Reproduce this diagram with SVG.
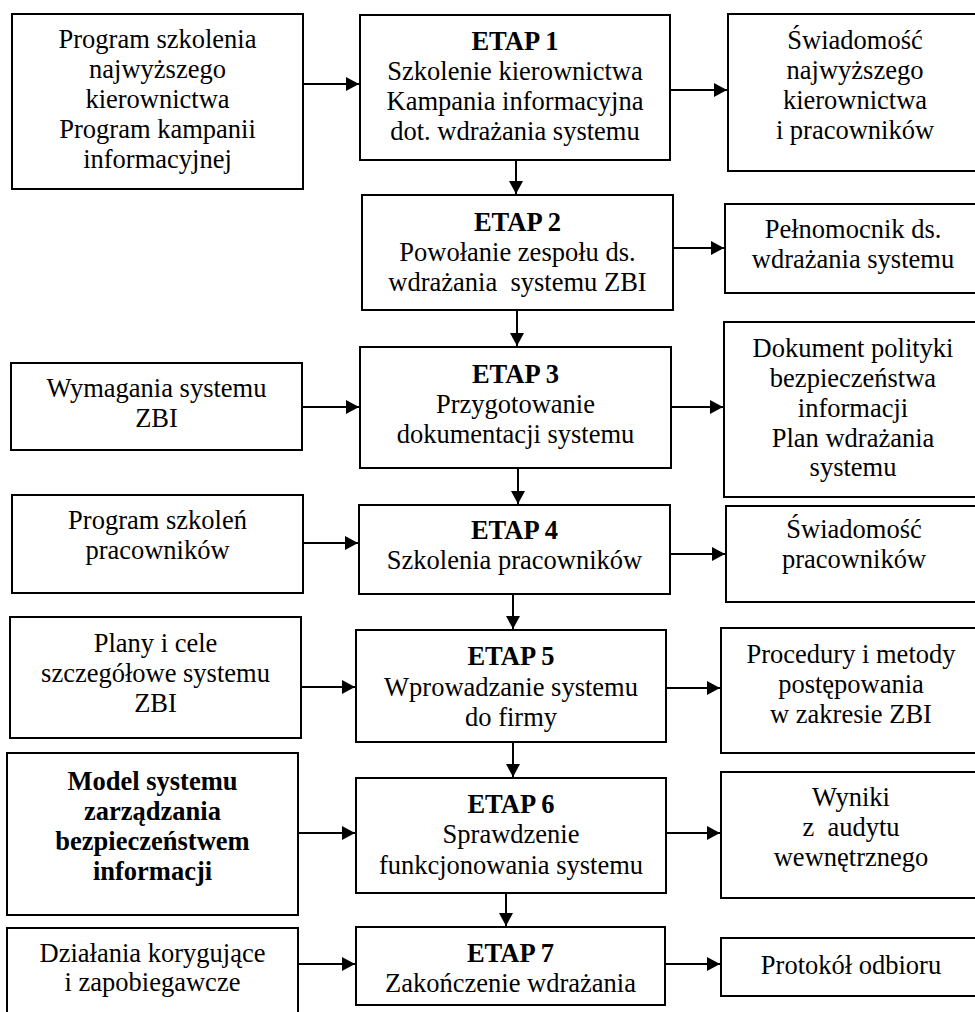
<svg xmlns="http://www.w3.org/2000/svg" width="975" height="1012" viewBox="0 0 975 1012">
<style>
  rect.box { fill: #ffffff; stroke: #000000; stroke-width: 2; }
  text { font-family: "Liberation Serif", "Times New Roman", serif; font-size: 26.5px; fill: #000000; text-anchor: middle; }
  text .b, text.b { font-weight: bold; }
  .conn line { stroke: #000000; stroke-width: 2; marker-end: url(#ah); }
</style>
<defs>
  <marker id="ah" markerUnits="userSpaceOnUse" markerWidth="14" markerHeight="14" refX="13" refY="7" orient="auto">
    <path d="M0,0 L13,7 L0,14 z" fill="#000000"/>
  </marker>
</defs>
<rect x="0" y="0" width="975" height="1012" fill="#ffffff"/>

<!-- left column -->
<g id="in1">
  <rect class="box" x="12" y="14" width="291" height="175"/>
  <text x="157.5" y="48">Program szkolenia</text>
  <text x="157.5" y="78">najwyższego</text>
  <text x="157.5" y="108">kierownictwa</text>
  <text x="157.5" y="138">Program kampanii</text>
  <text x="157.5" y="168">informacyjnej</text>
</g>
<g id="in3">
  <rect class="box" x="11" y="363" width="291" height="87"/>
  <text x="156.5" y="397">Wymagania systemu</text>
  <text x="156.5" y="427">ZBI</text>
</g>
<g id="in4">
  <rect class="box" x="12" y="495" width="291" height="98"/>
  <text x="157.5" y="529">Program szkoleń</text>
  <text x="157.5" y="559">pracowników</text>
</g>
<g id="in5">
  <rect class="box" x="10" y="617" width="291" height="121"/>
  <text x="155.5" y="652">Plany i cele</text>
  <text x="155.5" y="682">szczegółowe systemu</text>
  <text x="155.5" y="712">ZBI</text>
</g>
<g id="in6">
  <rect class="box" x="7" y="753" width="291" height="162"/>
  <text class="b" x="152.5" y="790">Model systemu</text>
  <text class="b" x="152.5" y="820">zarządzania</text>
  <text class="b" x="152.5" y="850">bezpieczeństwem</text>
  <text class="b" x="152.5" y="880">informacji</text>
</g>
<g id="in7">
  <rect class="box" x="7" y="928" width="291" height="100"/>
  <text x="152.5" y="962">Działania korygujące</text>
  <text x="152.5" y="991">i zapobiegawcze</text>
</g>

<!-- middle column -->
<g id="etap1">
  <rect class="box" x="360" y="15" width="310" height="145"/>
  <text class="b" x="515" y="49.5">ETAP 1</text>
  <text x="515" y="79.5">Szkolenie kierownictwa</text>
  <text x="515" y="109.5">Kampania informacyjna</text>
  <text x="515" y="139.5">dot. wdrażania systemu</text>
</g>
<g id="etap2">
  <rect class="box" x="362" y="195" width="311" height="115"/>
  <text class="b" x="517.5" y="231">ETAP 2</text>
  <text x="517.5" y="261">Powołanie zespołu ds.</text>
  <text x="517.5" y="291" xml:space="preserve">wdrażania  systemu ZBI</text>
</g>
<g id="etap3">
  <rect class="box" x="360" y="347" width="311" height="121"/>
  <text class="b" x="515.5" y="383">ETAP 3</text>
  <text x="515.5" y="413">Przygotowanie</text>
  <text x="515.5" y="443">dokumentacji systemu</text>
</g>
<g id="etap4">
  <rect class="box" x="359" y="505" width="311" height="89"/>
  <text class="b" x="514.5" y="539">ETAP 4</text>
  <text x="514.5" y="569">Szkolenia pracowników</text>
</g>
<g id="etap5">
  <rect class="box" x="356" y="630" width="310" height="112"/>
  <text class="b" x="511" y="665">ETAP 5</text>
  <text x="511" y="696">Wprowadzanie systemu</text>
  <text x="511" y="726">do firmy</text>
</g>
<g id="etap6">
  <rect class="box" x="356" y="778" width="310" height="115"/>
  <text class="b" x="511" y="813">ETAP 6</text>
  <text x="511" y="843">Sprawdzenie</text>
  <text x="511" y="874">funkcjonowania systemu</text>
</g>
<g id="etap7">
  <rect class="box" x="356" y="927" width="309" height="78"/>
  <text class="b" x="510.5" y="962">ETAP 7</text>
  <text x="510.5" y="992">Zakończenie wdrażania</text>
</g>

<!-- right column -->
<g id="out1">
  <rect class="box" x="728" y="14" width="262" height="157"/>
  <text x="855" y="49">Świadomość</text>
  <text x="855" y="79">najwyższego</text>
  <text x="855" y="109">kierownictwa</text>
  <text x="855" y="139">i pracowników</text>
</g>
<g id="out2">
  <rect class="box" x="725" y="204" width="265" height="89"/>
  <text x="853" y="238">Pełnomocnik ds.</text>
  <text x="853" y="268">wdrażania systemu</text>
</g>
<g id="out3">
  <rect class="box" x="724" y="322" width="266" height="175"/>
  <text x="853" y="357">Dokument polityki</text>
  <text x="853" y="387">bezpieczeństwa</text>
  <text x="853" y="417">informacji</text>
  <text x="853" y="447">Plan wdrażania</text>
  <text x="853" y="476">systemu</text>
</g>
<g id="out4">
  <rect class="box" x="726" y="506" width="264" height="96"/>
  <text x="854" y="538">Świadomość</text>
  <text x="854" y="568">pracowników</text>
</g>
<g id="out5">
  <rect class="box" x="721" y="628" width="269" height="125"/>
  <text x="851" y="663">Procedury i metody</text>
  <text x="851" y="693">postępowania</text>
  <text x="851" y="723">w zakresie ZBI</text>
</g>
<g id="out6">
  <rect class="box" x="721" y="772" width="269" height="126"/>
  <text x="851" y="806">Wyniki</text>
  <text x="851" y="836" xml:space="preserve">z  audytu</text>
  <text x="851" y="866">wewnętrznego</text>
</g>
<g id="out7">
  <rect class="box" x="721" y="938" width="269" height="58"/>
  <text x="851" y="974">Protokół odbioru</text>
</g>

<!-- connectors -->
<g id="connectors" class="conn">
  <line x1="304" y1="84" x2="359" y2="84"/>
  <line x1="303" y1="407" x2="359" y2="407"/>
  <line x1="304" y1="543" x2="358" y2="543"/>
  <line x1="302" y1="687" x2="355" y2="687"/>
  <line x1="299" y1="833" x2="355" y2="833"/>
  <line x1="299" y1="964" x2="355" y2="964"/>

  <line x1="671" y1="90" x2="727" y2="90"/>
  <line x1="674" y1="248" x2="724" y2="248"/>
  <line x1="672" y1="407" x2="723" y2="407"/>
  <line x1="671" y1="554" x2="725" y2="554"/>
  <line x1="667" y1="688" x2="720" y2="688"/>
  <line x1="667" y1="833" x2="720" y2="833"/>
  <line x1="666" y1="964" x2="720" y2="964"/>

  <line x1="516" y1="161" x2="516" y2="194"/>
  <line x1="517" y1="311" x2="517" y2="346"/>
  <line x1="518" y1="469" x2="518" y2="504"/>
  <line x1="513" y1="595" x2="513" y2="629"/>
  <line x1="513" y1="743" x2="513" y2="777"/>
  <line x1="506" y1="894" x2="506" y2="926"/>
</g>
</svg>
